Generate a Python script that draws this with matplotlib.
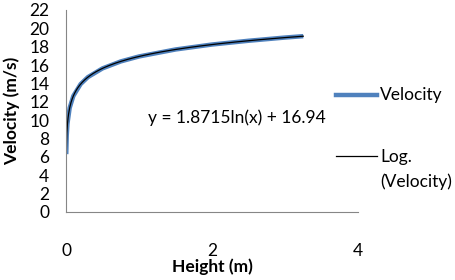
import numpy as np
import matplotlib.pyplot as plt
from matplotlib.lines import Line2D

height = [0.0034, 0.01, 0.02, 0.05, 0.1, 0.2, 0.3, 0.5, 0.75, 1.0, 1.5, 2.0, 2.5, 3.0, 3.25]
velocity = [6.3, 8.32, 9.62, 11.33, 12.63, 13.93, 14.69, 15.64, 16.40, 16.94, 17.70, 18.24, 18.65, 19.00, 19.15]

# trendline coefficients shown on the chart
a, b = 1.8715, 16.94
equation = "y = 1.8715ln(x) + 16.94"

plt.rcParams['font.family'] = ['Lato', 'DejaVu Sans']
fs = 12.5

fig = plt.figure(figsize=(4.56, 2.80), dpi=100)
ax = fig.add_axes([66 / 456, 1 - 212 / 280, 292 / 456, 202 / 280])

ax.plot(height, velocity, color='#4F81BD', lw=3.2, solid_capstyle='butt')
xs = np.linspace(min(height), max(height), 400)
ax.plot(xs, a * np.log(xs) + b, color='black', lw=0.9)

ax.set_xlim(0, 4)
ax.set_ylim(0, 22)
ax.set_xticks([0, 2, 4])
ax.set_yticks(range(0, 23, 2))
ax.tick_params(length=0, labelsize=fs)
ax.tick_params(axis='x', pad=22)
ax.tick_params(axis='y', pad=12)
for s in ['top', 'right']:
    ax.spines[s].set_visible(False)
for s in ['left', 'bottom']:
    ax.spines[s].set_color('#868686')
    ax.spines[s].set_linewidth(0.8)

ax.set_xlabel('Height (m)', fontsize=fs, fontweight='bold', va='center')
ax.set_ylabel('Velocity (m/s)', fontsize=fs, fontweight='bold', va='center')
ax.xaxis.set_label_coords(0.5, (212 - 267) / 202)
ax.yaxis.set_label_coords((12 - 66) / 292, 0.5)

fig.text(237 / 456, 1 - 118 / 280, equation, fontsize=fs, ha='center', va='center')

# legend drawn by hand so the trendline key sits level with "Log."
def fy(py):
    return 1 - py / 280

fig.add_artist(Line2D([336 / 456, 377 / 456], [fy(95), fy(95)], color='#4F81BD',
                      lw=3.2, transform=fig.transFigure))
fig.text(380 / 456, fy(95), 'Velocity', fontsize=fs, va='center')
fig.add_artist(Line2D([336 / 456, 377 / 456], [fy(156), fy(156)], color='black',
                      lw=0.9, transform=fig.transFigure))
fig.text(380 / 456, fy(157), 'Log.', fontsize=fs, va='center')
fig.text(380 / 456, fy(182), '(Velocity)', fontsize=fs, va='center')

fig.savefig('out.png', dpi=100)
